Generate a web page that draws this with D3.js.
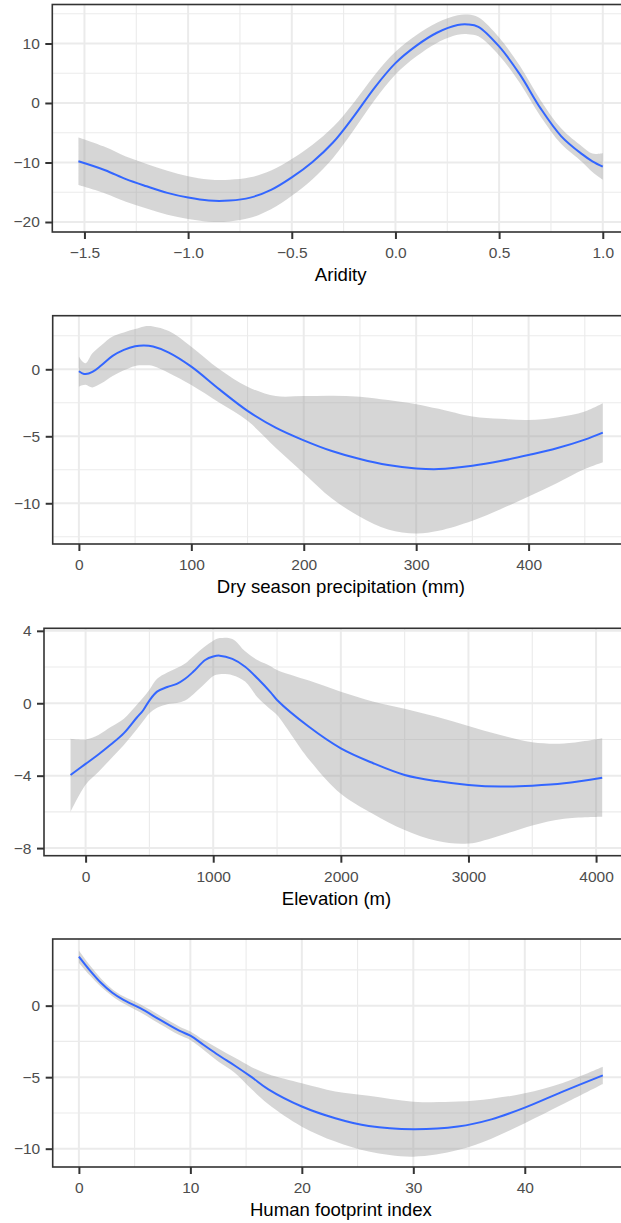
<!DOCTYPE html>
<html>
<head>
<meta charset="utf-8">
<script src="https://cdn.jsdelivr.net/npm/d3@7"></script>
<style>
  html, body { margin: 0; padding: 0; background: #ffffff; }
  svg { display: block; overflow: hidden; }
</style>
</head>
<body>
<div id="chart"></div>
<script>
// ---------------- DATA ----------------
// Panel 1: Aridity
const aridityX   = [-1.529, -1.4, -1.3, -1.2, -1.1, -1.0, -0.9, -0.8, -0.7, -0.6, -0.5, -0.4, -0.3, -0.2, -0.1, 0.0, 0.1, 0.2, 0.3, 0.35, 0.4, 0.5, 0.6, 0.7, 0.8, 0.9, 0.95, 1.0];
const aridityFit = [-9.8, -11.3, -12.8, -14.0, -15.1, -15.9, -16.4, -16.4, -15.9, -14.6, -12.5, -9.9, -6.6, -2.2, 2.6, 6.7, 9.6, 11.8, 13.1, 13.2, 12.8, 9.5, 4.8, -0.9, -5.6, -8.6, -9.8, -10.7];
const aridityLo  = [-13.8, -15.2, -16.6, -17.75, -18.8, -19.5, -19.95, -19.9, -19.3, -17.85, -15.6, -12.8, -9.2, -4.5, 0.5, 4.8, 7.8, 10.1, 11.45, 11.55, 11.2, 8.0, 3.35, -2.25, -6.9, -9.9, -11.6, -12.9];
const aridityHi  = [-5.8, -7.4, -9.0, -10.25, -11.4, -12.3, -12.85, -12.9, -12.5, -11.35, -9.4, -7.0, -4.0, 0.1, 4.7, 8.6, 11.4, 13.5, 14.75, 14.85, 14.4, 11.0, 6.25, 0.45, -4.3, -7.3, -8.5, -8.45];
const aridityXTicks = [-1.5, -1.0, -0.5, 0.0, 0.5, 1.0];
const aridityXMinor = [-1.25, -0.75, -0.25, 0.25, 0.75];
const aridityYTicks = [-20, -10, 0, 10];
const aridityYMinor = [-15, -5, 5, 15];

// Panel 2: Dry season precipitation
const precipX   = [0, 3, 6, 12, 20, 30, 40, 50, 58, 66, 80, 100, 125, 150, 175, 200, 225, 250, 275, 300, 320, 350, 375, 400, 425, 450, 466];
const precipFit = [-0.15, -0.3, -0.36, -0.2, 0.3, 1.0, 1.45, 1.72, 1.78, 1.7, 1.25, 0.2, -1.5, -3.1, -4.35, -5.3, -6.1, -6.7, -7.15, -7.4, -7.45, -7.2, -6.85, -6.4, -5.9, -5.25, -4.73];
const precipLo  = [-1.3, -1.2, -1.15, -1.35, -1.05, -0.5, -0.08, 0.25, 0.3, 0.25, -0.27, -1.17, -2.5, -3.85, -5.85, -7.76, -9.65, -11.0, -11.95, -12.25, -12.05, -11.3, -10.45, -9.5, -8.5, -7.45, -6.94];
const precipHi  = [0.95, 0.6, 0.45, 1.2, 1.8, 2.45, 2.75, 3.0, 3.2, 3.2, 2.85, 1.69, 0.0, -1.3, -2.0, -2.0, -1.97, -2.05, -2.3, -2.6, -2.95, -3.53, -3.7, -3.78, -3.6, -3.15, -2.54];
const precipXTicks = [0, 100, 200, 300, 400];
const precipXMinor = [50, 150, 250, 350, 450];
const precipYTicks = [-10, -5, 0];
const precipYMinor = [-12.5, -7.5, -2.5, 2.5];

// Panel 3: Elevation
const elevX   = [-118, 0, 100, 200, 300, 400, 450, 500, 560, 640, 715, 780, 845, 937, 1000, 1050, 1150, 1250, 1350, 1450, 1500, 1750, 2000, 2250, 2500, 2750, 3000, 3250, 3500, 3750, 4048];
const elevFit = [-3.96, -3.35, -2.83, -2.27, -1.65, -0.8, -0.4, 0.15, 0.64, 0.9, 1.07, 1.35, 1.75, 2.39, 2.58, 2.63, 2.45, 2.02, 1.35, 0.6, 0.18, -1.3, -2.49, -3.3, -3.96, -4.3, -4.51, -4.6, -4.55, -4.42, -4.11];
const elevLo  = [-6.0, -4.5, -3.8, -3.05, -2.3, -1.45, -1.0, -0.55, -0.25, -0.05, 0.02, 0.15, 0.5, 1.1, 1.5, 1.6, 1.55, 1.2, 0.3, -0.35, -0.65, -3.1, -5.0, -6.1, -7.0, -7.6, -7.75, -7.3, -6.75, -6.38, -6.27];
const elevHi  = [-1.96, -2.0, -1.75, -1.3, -0.85, -0.1, 0.3, 0.75, 1.35, 1.7, 1.95, 2.2, 2.6, 3.15, 3.45, 3.6, 3.55, 2.87, 2.37, 2.05, 1.84, 1.25, 0.64, 0.1, -0.3, -0.75, -1.25, -1.75, -2.15, -2.22, -1.93];
const elevXTicks = [0, 1000, 2000, 3000, 4000];
const elevXMinor = [500, 1500, 2500, 3500];
const elevYTicks = [-8, -4, 0, 4];
const elevYMinor = [-6, -2, 2];

// Panel 4: Human footprint index
const hfiX   = [0, 1, 2, 3, 4, 5.5, 7.3, 9, 10, 11.2, 12.5, 14, 15.5, 17, 20, 23, 26, 30, 34, 37, 40, 43.4, 47];
const hfiFit = [3.43, 2.45, 1.58, 0.9, 0.4, -0.18, -1.0, -1.75, -2.1, -2.75, -3.45, -4.2, -5.0, -5.85, -7.05, -7.87, -8.42, -8.64, -8.45, -7.95, -7.13, -6.01, -4.87];
const hfiLo  = [3.0, 2.1, 1.3, 0.65, 0.15, -0.46, -1.3, -2.05, -2.4, -3.1, -3.9, -4.7, -5.85, -6.9, -8.46, -9.5, -10.2, -10.56, -10.1, -9.3, -8.22, -6.9, -5.48];
const hfiHi  = [3.85, 2.8, 1.88, 1.15, 0.65, 0.1, -0.7, -1.45, -1.8, -2.4, -3.0, -3.65, -4.3, -4.8, -5.43, -6.0, -6.3, -6.71, -6.7, -6.5, -6.13, -5.4, -4.27];
const hfiXTicks = [0, 10, 20, 30, 40];
const hfiXMinor = [5, 15, 25, 35, 45];
const hfiYTicks = [-10, -5, 0];
const hfiYMinor = [-7.5, -2.5, 2.5];

const axisTitles = ["Aridity", "Dry season precipitation (mm)", "Elevation (m)", "Human footprint index"];

// ---------------- LAYOUT ----------------
const W = 621, H = 1223;
const FONT = "'Liberation Sans', Arial, Helvetica, sans-serif";
const panels = [
  { x: aridityX, fit: aridityFit, lo: aridityLo, hi: aridityHi,
    xTicks: aridityXTicks, xMinor: aridityXMinor, yTicks: aridityYTicks, yMinor: aridityYMinor,
    xFmt: d3.format(".1f"), yFmt: d3.format("d"),
    top: 4.5, bottom: 232, left: 52.3, right: 629, xDom: [-1.655, 1.1265], yDom: [-21.68, 16.55] },
  { x: precipX, fit: precipFit, lo: precipLo, hi: precipHi,
    xTicks: precipXTicks, xMinor: precipXMinor, yTicks: precipYTicks, yMinor: precipYMinor,
    xFmt: d3.format("d"), yFmt: d3.format("d"),
    top: 315.7, bottom: 544, left: 52.7, right: 629, xDom: [-23.3, 489.3], yDom: [-13.04, 4.0] },
  { x: elevX, fit: elevFit, lo: elevLo, hi: elevHi,
    xTicks: elevXTicks, xMinor: elevXMinor, yTicks: elevYTicks, yMinor: elevYMinor,
    xFmt: d3.format("d"), yFmt: d3.format("d"),
    top: 628.3, bottom: 855.7, left: 44, right: 629, xDom: [-326, 4258], yDom: [-8.42, 4.14] },
  { x: hfiX, fit: hfiFit, lo: hfiLo, hi: hfiHi,
    xTicks: hfiXTicks, xMinor: hfiXMinor, yTicks: hfiYTicks, yMinor: hfiYMinor,
    xFmt: d3.format("d"), yFmt: d3.format("d"),
    top: 939, bottom: 1167, left: 52.7, right: 629, xDom: [-2.35, 49.35], yDom: [-11.28, 4.66] }
];

const svg = d3.select("#chart").append("svg")
  .attr("width", W).attr("height", H)
  .attr("viewBox", `0 0 ${W} ${H}`)
  .style("font-family", FONT);

svg.append("rect").attr("width", W).attr("height", H).attr("fill", "#ffffff");

const smooth = d3.curveCatmullRom.alpha(0.5);

panels.forEach((p, i) => {
  const x = d3.scaleLinear().domain(p.xDom).range([p.left, p.right]);
  const y = d3.scaleLinear().domain(p.yDom).range([p.bottom, p.top]);
  const g = svg.append("g");

  const clipId = "clip" + i;
  svg.append("clipPath").attr("id", clipId).append("rect")
    .attr("x", p.left).attr("y", p.top)
    .attr("width", p.right - p.left).attr("height", p.bottom - p.top);

  const plot = g.append("g").attr("clip-path", `url(#${clipId})`);

  // minor grid
  plot.selectAll(".vminor").data(p.xMinor).join("line")
    .attr("x1", d => x(d)).attr("x2", d => x(d))
    .attr("y1", p.top).attr("y2", p.bottom)
    .attr("stroke", "#EBEBEB").attr("stroke-width", 1.1);
  plot.selectAll(".hminor").data(p.yMinor).join("line")
    .attr("x1", p.left).attr("x2", p.right)
    .attr("y1", d => y(d)).attr("y2", d => y(d))
    .attr("stroke", "#EBEBEB").attr("stroke-width", 1.1);
  // major grid
  plot.selectAll(".vmajor").data(p.xTicks).join("line")
    .attr("x1", d => x(d)).attr("x2", d => x(d))
    .attr("y1", p.top).attr("y2", p.bottom)
    .attr("stroke", "#EBEBEB").attr("stroke-width", 2);
  plot.selectAll(".hmajor").data(p.yTicks).join("line")
    .attr("x1", p.left).attr("x2", p.right)
    .attr("y1", d => y(d)).attr("y2", d => y(d))
    .attr("stroke", "#EBEBEB").attr("stroke-width", 2);

  const rows = p.x.map((xv, k) => ({ x: xv, fit: p.fit[k], lo: p.lo[k], hi: p.hi[k] }));

  const area = d3.area()
    .x(d => x(d.x)).y0(d => y(d.lo)).y1(d => y(d.hi))
    .curve(smooth);
  plot.append("path").datum(rows)
    .attr("d", area)
    .attr("fill", "#999999").attr("fill-opacity", 0.4);

  const line = d3.line()
    .x(d => x(d.x)).y(d => y(d.fit))
    .curve(smooth);
  plot.append("path").datum(rows)
    .attr("d", line)
    .attr("fill", "none").attr("stroke", "#3366FF").attr("stroke-width", 2);

  // panel border
  g.append("rect")
    .attr("x", p.left).attr("y", p.top)
    .attr("width", p.right - p.left).attr("height", p.bottom - p.top)
    .attr("fill", "none").attr("stroke", "#333333").attr("stroke-width", 1.6);

  // axes
  const xAxis = d3.axisBottom(x).tickValues(p.xTicks).tickFormat(p.xFmt)
    .tickSize(7).tickPadding(8);
  const gx = g.append("g").attr("transform", `translate(0,${p.bottom})`).call(xAxis);
  gx.select(".domain").remove();
  gx.selectAll(".tick line").attr("stroke", "#333333").attr("stroke-width", 2);
  gx.selectAll(".tick text").attr("fill", "#4D4D4D")
    .style("font-size", "15.5px")
    .style("font-family", FONT);

  const yAxis = d3.axisLeft(y).tickValues(p.yTicks).tickFormat(p.yFmt)
    .tickSize(7).tickPadding(5.5);
  const gy = g.append("g").attr("transform", `translate(${p.left},0)`).call(yAxis);
  gy.select(".domain").remove();
  gy.selectAll(".tick line").attr("stroke", "#333333").attr("stroke-width", 2);
  gy.selectAll(".tick text").attr("fill", "#4D4D4D")
    .style("font-size", "15.5px")
    .style("font-family", FONT);

  // axis title
  g.append("text")
    .attr("x", (p.left + p.right) / 2)
    .attr("y", p.bottom + 49)
    .attr("text-anchor", "middle")
    .attr("fill", "#000000")
    .style("font-size", "18.6px")
    .text(axisTitles[i]);
});
</script>
</body>
</html>
